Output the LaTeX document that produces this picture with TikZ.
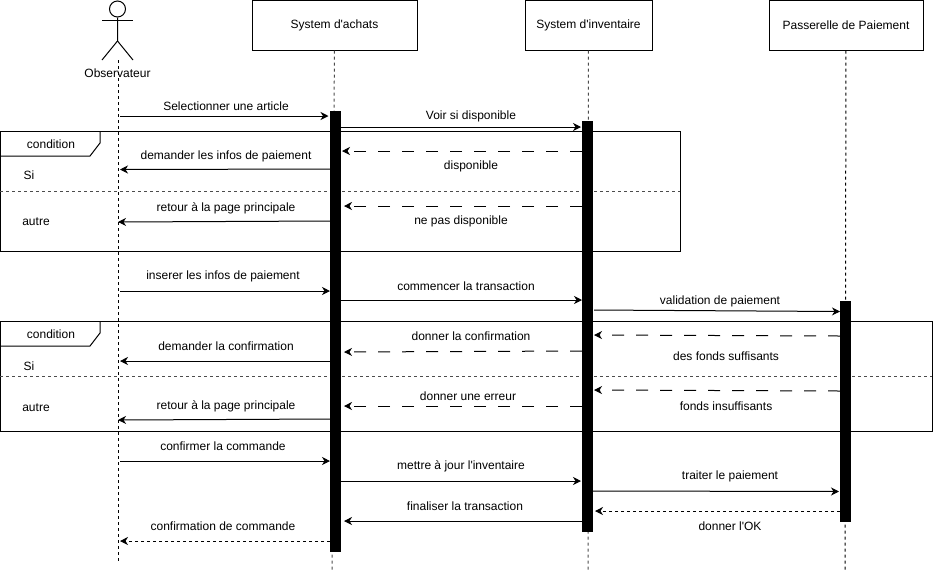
\documentclass[tikz,border=0pt]{standalone}
\usepackage{fontspec}
\setmainfont{Liberation Sans}
\usetikzlibrary{arrows.meta}

\begin{document}
\begin{tikzpicture}[x=1pt,y=-1pt,line width=1pt,
        every node/.style={font=\fontsize{12}{14}\selectfont,inner sep=0pt},
        headbox/.style={draw,minimum height=50pt},
        life/.style={dash pattern=on 3pt off 3pt},
        bar/.style={fill=black,minimum width=11pt},
        lbl/.style={xshift=1pt,yshift=-1pt},
        msg/.style={-{Stealth[length=8pt,width=8pt,inset=2.5pt]}},
        longdash/.style={msg,dash pattern=on 12pt off 12pt},
        shortdash/.style={msg,dash pattern=on 3pt off 3pt},
        divider/.style={dash pattern=on 3pt off 3pt,black!70}]
        \useasboundingbox (0,0) rectangle (933,574);

        % actor
        \node at (117.5,9) [circle,draw,minimum size=16pt] (head) {};
        \coordinate (hip) at (117.5,41);
        \coordinate (armL) at (102,20);
        \coordinate (armR) at (133,20);
        \coordinate (legL) at (102,60);
        \coordinate (legR) at (133,60);
        \draw (head) -- (hip) -- (legL);
        \draw (hip) -- (legR);
        \draw (armL) -- (armR);
        \node at (117.5,73.5) (obs) {Observateur};

        % participants
        \node at (334.5,25) [headbox,minimum width=165pt] (achats) {System d\textquotesingle achats};
        \node at (588.5,25) [headbox,minimum width=127pt] (inv) {System d\textquotesingle inventaire};
        \node at (846,25) [headbox,minimum width=154pt] (pay) {Passerelle de Paiement};

        % lifelines
        \coordinate (obsTop) at (118,60);
        \coordinate (obsEnd) at (118,562);
        \coordinate (achatsEnd) at (332,572);
        \coordinate (invEnd) at (588,572);
        \coordinate (payEnd) at (845,572);
        \draw[life] (obsTop) -- (obsEnd);
        \draw[life,black!70] (achats) -- (achatsEnd);
        \draw[life,black!70] (inv) -- (invEnd);
        \draw[life] (pay) -- (payEnd);

        % first frame
        \node at (340,191) [draw,minimum width=680pt,minimum height=120pt] (frameA) {};
        \coordinate (tabA1) at (100,131);
        \coordinate (tabA2) at (100,143);
        \coordinate (tabA3) at (90,156);
        \coordinate (tabA4) at (0,156);
        \coordinate (divA1) at (0,191);
        \coordinate (divA2) at (680,191);
        \draw (tabA1) -- (tabA2) -- (tabA3) -- (tabA4);
        \draw[divider] (divA1) -- (divA2);
        \node at (50,143) [lbl] (condA) {condition};
        \node at (28,174) [lbl] (siA) {Si};
        \node at (35,221) [lbl] (autreA) {autre};

        % second frame
        \node at (466,376) [draw,minimum width=932pt,minimum height=110pt] (frameB) {};
        \coordinate (tabB1) at (100,321);
        \coordinate (tabB2) at (100,333);
        \coordinate (tabB3) at (90,346);
        \coordinate (tabB4) at (0,346);
        \coordinate (divB1) at (0,376);
        \coordinate (divB2) at (932,376);
        \draw (tabB1) -- (tabB2) -- (tabB3) -- (tabB4);
        \draw[divider] (divB1) -- (divB2);
        \node at (50,333) [lbl] (condB) {condition};
        \node at (28,365) [lbl] (siB) {Si};
        \node at (35,407) [lbl] (autreB) {autre};

        % activation bars
        \node at (335.5,331.5) [bar,minimum height=441pt] (barAchats) {};
        \node at (587.5,326.5) [bar,minimum height=411pt] (barInv) {};
        \node at (845.5,411.5) [bar,minimum height=221pt] (barPay) {};

        % messages
        \coordinate (m1a) at (120,116);
        \coordinate (m1b) at (328.5,116);
        \draw[msg] (m1a) -- (m1b);
        \node at (225,105) [lbl] (t1) {Selectionner une article};

        \coordinate (m2a) at (341,127);
        \coordinate (m2b) at (581,127);
        \draw[msg] (m2a) -- (m2b);
        \node at (470,115) [lbl] (t2) {Voir si disponible};

        \coordinate (m3a) at (582,151);
        \coordinate (m3b) at (342,151);
        \draw[longdash] (m3a) -- (m3b);
        \node at (470,165) [lbl] (t3) {disponible};

        \coordinate (m4a) at (330,169);
        \coordinate (m4b) at (120,169.5);
        \draw[msg] (m4a) -- (m4b);
        \node at (225,155) [lbl] (t4) {demander les infos de paiement};

        \coordinate (m5a) at (582,206);
        \coordinate (m5b) at (344,206);
        \draw[longdash] (m5a) -- (m5b);
        \node at (460,220) [lbl] (t5) {ne pas disponible};

        \coordinate (m6a) at (330,221);
        \coordinate (m6b) at (118,222);
        \draw[msg] (m6a) -- (m6b);
        \node at (225,207) [lbl] (t6) {retour à la page principale};

        \coordinate (m7a) at (120,291);
        \coordinate (m7b) at (330,291);
        \draw[msg] (m7a) -- (m7b);
        \node at (222,275) [lbl] (t7) {inserer les infos de paiement};

        \coordinate (m8a) at (341,300);
        \coordinate (m8b) at (582,300);
        \draw[msg] (m8a) -- (m8b);
        \node at (465,285) [lbl] (t8) {commencer la transaction};

        \coordinate (m9a) at (594,310);
        \coordinate (m9b) at (840,311.5);
        \draw[msg] (m9a) -- (m9b);
        \node at (719,300) [lbl] (t9) {validation de paiement};

        \coordinate (m10a) at (840,336);
        \coordinate (m10b) at (594,335);
        \draw[longdash] (m10a) -- (m10b);
        \node at (725,355) [lbl] (t10) {des fonds suffisants};

        \coordinate (m11a) at (582,351);
        \coordinate (m11b) at (344,352);
        \draw[longdash] (m11a) -- (m11b);
        \node at (470,335) [lbl] (t11) {donner la confirmation};

        \coordinate (m12a) at (330,361);
        \coordinate (m12b) at (120,361);
        \draw[msg] (m12a) -- (m12b);
        \node at (225,345) [lbl] (t12) {demander la confirmation};

        \coordinate (m13a) at (840,391);
        \coordinate (m13b) at (594,390);
        \draw[longdash] (m13a) -- (m13b);
        \node at (725,405) [lbl] (t13) {fonds insuffisants};

        \coordinate (m14a) at (582,406);
        \coordinate (m14b) at (344,406);
        \draw[longdash] (m14a) -- (m14b);
        \node at (467,395) [lbl] (t14) {donner une erreur};

        \coordinate (m15a) at (330,419);
        \coordinate (m15b) at (118,420);
        \draw[msg] (m15a) -- (m15b);
        \node at (225,405) [lbl] (t15) {retour à la page principale};

        \coordinate (m16a) at (120,461);
        \coordinate (m16b) at (330,461);
        \draw[msg] (m16a) -- (m16b);
        \node at (222,445) [lbl] (t16) {confirmer la commande};

        \coordinate (m17a) at (341,481);
        \coordinate (m17b) at (581,481);
        \draw[msg] (m17a) -- (m17b);
        \node at (460,465) [lbl] (t17) {mettre à jour l\textquotesingle inventaire};

        \coordinate (m18a) at (593,491);
        \coordinate (m18b) at (839,491.5);
        \draw[msg] (m18a) -- (m18b);
        \node at (729,475) [lbl] (t18) {traiter le paiement};

        \coordinate (m19a) at (840,511);
        \coordinate (m19b) at (595,511);
        \draw[shortdash] (m19a) -- (m19b);
        \node at (729,525) [lbl] (t19) {donner l\textquotesingle OK};

        \coordinate (m20a) at (582,521);
        \coordinate (m20b) at (344,521);
        \draw[msg] (m20a) -- (m20b);
        \node at (464,505) [lbl] (t20) {finaliser la transaction};

        \coordinate (m21a) at (330,541);
        \coordinate (m21b) at (120,541);
        \draw[shortdash] (m21a) -- (m21b);
        \node at (222,525) [lbl] (t21) {confirmation de commande};
    \end{tikzpicture}
\end{document}
